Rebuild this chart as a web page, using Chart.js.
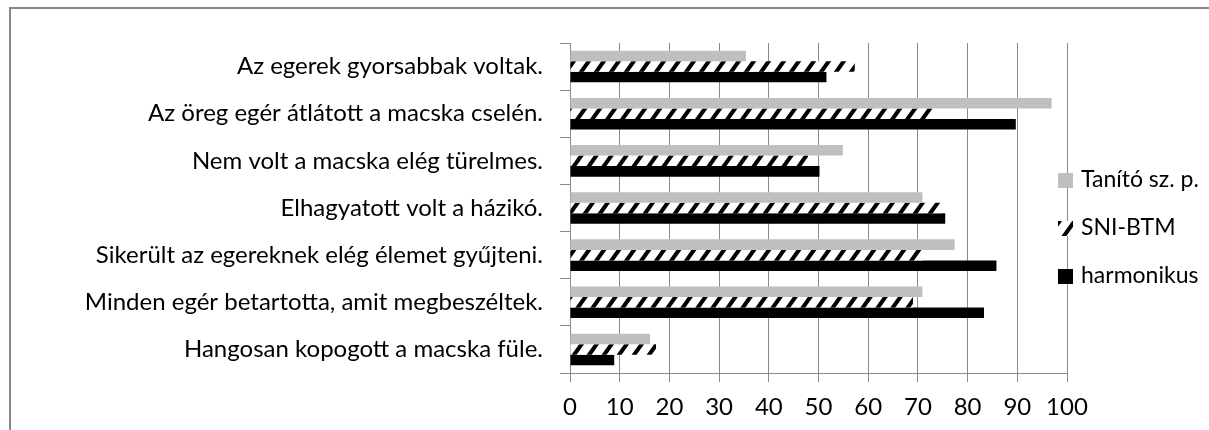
<!DOCTYPE html>
<html>
<head>
<meta charset="utf-8">
<script src="https://cdn.jsdelivr.net/npm/chart.js@4/dist/chart.umd.min.js"></script>
<style>
  html, body { margin: 0; padding: 0; background: #fff; overflow: hidden; }
  #chart { display: block; }
</style>
</head>
<body>
<canvas id="chart" width="1209" height="430"></canvas>
<script>
// Category labels, top to bottom
const categories = [
  'Az egerek gyorsabbak voltak.',
  'Az öreg egér átlátott a macska cselén.',
  'Nem volt a macska elég türelmes.',
  'Elhagyatott volt a házikó.',
  'Sikerült az egereknek elég élemet gyűjteni.',
  'Minden egér betartotta, amit megbeszéltek.',
  'Hangosan kopogott a macska füle.'
];

// Series values (percent)
const tanito = [35.4, 96.9, 54.9, 70.9, 77.4, 70.9, 16.1];
const sniBtm = [57.3, 72.9, 47.9, 75.0, 71.0, 69.0, 17.3];
const harmonikus = [51.6, 89.7, 50.2, 75.5, 85.8, 83.3, 8.9];

const seriesNames = ['Tanító sz. p.', 'SNI-BTM', 'harmonikus'];
const xTicks = [0, 10, 20, 30, 40, 50, 60, 70, 80, 90, 100];

const FONT = 'Lato';

// Slanted dash pattern for the SNI-BTM bars
function makeHatch() {
  const tile = document.createElement('canvas');
  tile.width = 15;
  tile.height = 21;
  const c = tile.getContext('2d');
  c.fillStyle = '#fff';
  c.fillRect(0, 0, 15, 21);
  c.fillStyle = '#000';
  [-15, 0, 15].forEach(off => {
    c.beginPath();
    c.moveTo(off, 21);
    c.lineTo(off + 5, 21);
    c.lineTo(off + 20, 0);
    c.lineTo(off + 15, 0);
    c.closePath();
    c.fill();
  });
  return document.getElementById('chart').getContext('2d').createPattern(tile, 'repeat');
}

const hatch = makeHatch();

// Outer frame of the chart object
const framePlugin = {
  id: 'frame',
  beforeDraw(chart) {
    const ctx = chart.ctx;
    ctx.save();
    ctx.strokeStyle = '#888';
    ctx.lineWidth = 2;
    ctx.beginPath();
    ctx.moveTo(10, 430);
    ctx.lineTo(10, 8);
    ctx.lineTo(1215, 8);
    ctx.stroke();
    ctx.restore();
  }
};

// Legend sits over the right edge of the plot, like the original
const legendPlugin = {
  id: 'sideLegend',
  afterDraw(chart) {
    const ctx = chart.ctx;
    ctx.save();
    ctx.font = '23px ' + FONT;
    ctx.textBaseline = 'middle';
    ctx.textAlign = 'left';
    chart.data.datasets.forEach((ds, i) => {
      const cy = 180 + i * 48;
      ctx.fillStyle = ds.backgroundColor;
      ctx.fillRect(1058, cy - 7, 15, 15);
      ctx.fillStyle = '#000';
      ctx.fillText(ds.label, 1081, cy);
    });
    ctx.restore();
  }
};

new Chart(document.getElementById('chart'), {
  type: 'bar',
  data: {
    labels: categories,
    datasets: [
      { label: seriesNames[0], data: tanito, backgroundColor: '#bfbfbf' },
      { label: seriesNames[1], data: sniBtm, backgroundColor: hatch },
      { label: seriesNames[2], data: harmonikus, backgroundColor: '#000' }
    ]
  },
  options: {
    indexAxis: 'y',
    responsive: false,
    animation: false,
    devicePixelRatio: 1,
    datasets: {
      bar: { categoryPercentage: 0.67, barPercentage: 1.0, borderWidth: 0 }
    },
    layout: { padding: { top: 43, right: 142, bottom: 0, left: 0 } },
    plugins: {
      legend: { display: false },
      tooltip: { enabled: false }
    },
    scales: {
      x: {
        min: 0,
        max: 100,
        afterBuildTicks: s => { s.ticks = xTicks.map(v => ({ value: v })); },
        afterFit: s => { s.height = 57; },
        grid: { color: '#8a8a8a', lineWidth: 1, tickLength: 9 },
        border: { color: '#8a8a8a', width: 1 },
        ticks: { color: '#000', font: { family: FONT, size: 24 }, padding: 11, maxRotation: 0 }
      },
      y: {
        afterFit: s => { s.width = 570; },
        grid: { offset: true, drawOnChartArea: false, color: '#8a8a8a', lineWidth: 1, tickLength: 10 },
        border: { color: '#8a8a8a', width: 1 },
        ticks: { color: '#000', font: { family: FONT, size: 24 }, padding: 17 }
      }
    }
  },
  plugins: [framePlugin, legendPlugin]
});
</script>
</body>
</html>
